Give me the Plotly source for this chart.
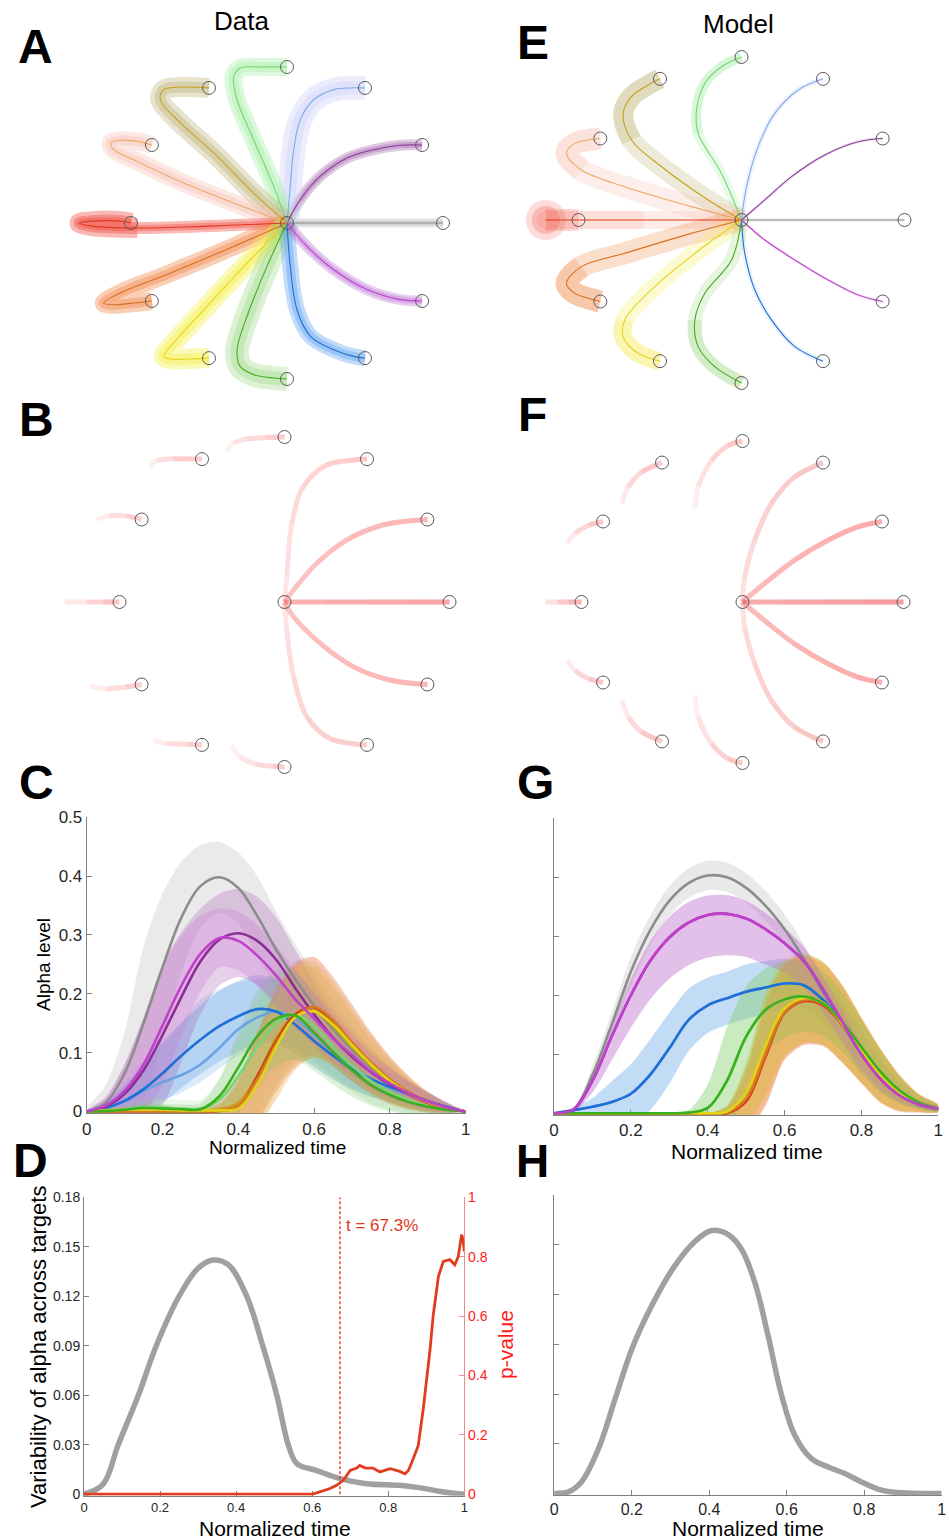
import plotly.graph_objects as go

W, H = 949, 1540
FONT = "Liberation Sans, Arial, Helvetica, sans-serif"

# ---------------- targets (unit = target distance) ----------------
TARGET_X = [1.0, 0.866, 0.5, 0.0, -0.5, -0.866, -1.0, -0.866, -0.5, 0.0, 0.5, 0.866]
TARGET_Y = [0.0, 0.5, 0.866, 1.0, 0.866, 0.5, 0.0, -0.5, -0.866, -1.0, -0.866, -0.5]

# ---------------- panel A: data trajectories ----------------
A_PATH_X = [
    [0, 0.5, 1.0],
    [0, 0.085, 0.214, 0.385, 0.556, 0.726, 0.866],
    [0, 0.021, 0.043, 0.085, 0.171, 0.3, 0.5],
    [0, -0.085, -0.214, -0.32, -0.342, -0.3, -0.17, 0.0],
    [0, -0.214, -0.47, -0.705, -0.812, -0.79, -0.705, -0.5],
    [0, -0.342, -0.662, -0.94, -1.11, -1.13, -1.07, -0.94, -0.866],
    [0, -0.5, -0.96, -1.25, -1.33, -1.25, -1.05, -1.0],
    [0, -0.342, -0.77, -1.07, -1.175, -1.13, -0.98, -0.866],
    [0, -0.214, -0.513, -0.726, -0.79, -0.748, -0.64, -0.5],
    [0, -0.128, -0.256, -0.32, -0.3, -0.214, -0.085, 0.0],
    [0, 0.021, 0.064, 0.15, 0.3, 0.427, 0.5],
    [0, 0.128, 0.3, 0.513, 0.726, 0.866],
]
A_PATH_Y = [
    [0, 0.0, 0.0],
    [0, 0.15, 0.3, 0.417, 0.47, 0.498, 0.5],
    [0, 0.235, 0.47, 0.662, 0.79, 0.855, 0.866],
    [0, 0.235, 0.534, 0.79, 0.94, 0.994, 1.0, 1.0],
    [0, 0.192, 0.449, 0.662, 0.79, 0.855, 0.87, 0.866],
    [0, 0.128, 0.256, 0.385, 0.47, 0.513, 0.53, 0.52, 0.5],
    [0, -0.02, -0.032, -0.02, 0.0, 0.012, 0.01, 0.0],
    [0, -0.15, -0.33, -0.449, -0.513, -0.524, -0.513, -0.5],
    [0, -0.214, -0.534, -0.769, -0.855, -0.872, -0.872, -0.866],
    [0, -0.278, -0.598, -0.812, -0.919, -0.972, -0.994, -1.0],
    [0, -0.278, -0.556, -0.726, -0.812, -0.855, -0.866],
    [0, -0.15, -0.3, -0.427, -0.491, -0.5],
]

# ---------------- panel E: model trajectories ----------------
E_PATH_X = [
    [0, 0.5, 1.0],
    [0, 0.143, 0.307, 0.511, 0.716, 0.866],
    [0, 0.031, 0.102, 0.204, 0.348, 0.5],
    [0, -0.123, -0.266, -0.276, -0.225, -0.123, 0.0],
    [0, -0.204, -0.49, -0.675, -0.726, -0.675, -0.573, -0.5],
    [0, -0.307, -0.716, -0.982, -1.074, -1.022, -0.94, -0.866],
    [0, -0.6, -1.2, -1.0],
    [0, -0.307, -0.716, -0.982, -1.074, -1.022, -0.94, -0.866],
    [0, -0.204, -0.532, -0.716, -0.726, -0.634, -0.5],
    [0, -0.061, -0.225, -0.286, -0.266, -0.164, 0.0],
    [0, 0.02, 0.082, 0.184, 0.327, 0.5],
    [0, 0.143, 0.327, 0.532, 0.716, 0.866],
]
E_PATH_Y = [
    [0, 0.0, 0.0],
    [0, 0.123, 0.266, 0.399, 0.48, 0.5],
    [0, 0.204, 0.45, 0.654, 0.798, 0.866],
    [0, 0.286, 0.532, 0.675, 0.838, 0.94, 1.0],
    [0, 0.123, 0.327, 0.491, 0.654, 0.757, 0.828, 0.866],
    [0, 0.082, 0.204, 0.307, 0.409, 0.47, 0.491, 0.5],
    [0, 0.0, 0.0, 0.0],
    [0, -0.082, -0.204, -0.286, -0.389, -0.45, -0.48, -0.5],
    [0, -0.143, -0.409, -0.613, -0.716, -0.818, -0.866],
    [0, -0.245, -0.45, -0.613, -0.777, -0.9, -1.0],
    [0, -0.204, -0.429, -0.613, -0.777, -0.866],
    [0, -0.123, -0.245, -0.368, -0.46, -0.5],
]

# ---------------- panel B: data, alpha-weighted paths ----------------
B_PATH_X = [
    [0, 0.25, 0.5, 0.75, 1.0],
    [0, 0.055, 0.196, 0.379, 0.601, 0.783, 0.866],
    [0, 0.014, 0.045, 0.115, 0.257, 0.399, 0.5],
    [-0.35, -0.31, -0.229, -0.107, 0.0],
    [-0.816, -0.775, -0.674, -0.5],
    [-1.14, -1.06, -0.96, -0.866],
    [-1.332, -1.2, -1.1, -1.0],
    [-1.18, -1.08, -0.96, -0.866],
    [-0.796, -0.715, -0.593, -0.5],
    [-0.32, -0.27, -0.168, -0.067, 0.0],
    [0, 0.014, 0.055, 0.136, 0.277, 0.5],
    [0, 0.055, 0.217, 0.419, 0.642, 0.866],
]
B_PATH_Y = [
    [0, 0.0, 0.0, 0.0, 0.0],
    [0, 0.073, 0.235, 0.377, 0.468, 0.494, 0.5],
    [0, 0.154, 0.478, 0.7, 0.832, 0.858, 0.866],
    [0.913, 0.964, 0.988, 0.997, 1.0],
    [0.818, 0.858, 0.868, 0.866],
    [0.502, 0.522, 0.522, 0.5],
    [0.0, 0.0, 0.0, 0.0],
    [-0.51, -0.526, -0.514, -0.5],
    [-0.838, -0.858, -0.862, -0.866],
    [-0.868, -0.939, -0.984, -0.996, -1.0],
    [0, -0.17, -0.453, -0.696, -0.828, -0.866],
    [0, -0.089, -0.251, -0.393, -0.474, -0.5],
]

# ---------------- panel F: model, alpha-weighted paths ----------------
F_PATH_X = [
    [0, 0.25, 0.5, 0.75, 1.0],
    [0, 0.138, 0.324, 0.531, 0.717, 0.866],
    [0, 0.014, 0.076, 0.18, 0.324, 0.5],
    [-0.295, -0.275, -0.192, -0.089, 0.0],
    [-0.75, -0.709, -0.626, -0.5],
    [-1.09, -1.04, -0.955, -0.866],
    [-1.225, -1.15, -1.08, -1.0],
    [-1.09, -1.04, -0.955, -0.866],
    [-0.75, -0.709, -0.626, -0.5],
    [-0.295, -0.275, -0.192, -0.089, 0.0],
    [0, 0.014, 0.076, 0.18, 0.324, 0.5],
    [0, 0.138, 0.324, 0.531, 0.717, 0.866],
]
F_PATH_Y = [
    [0, 0.0, 0.0, 0.0, 0.0],
    [0, 0.116, 0.26, 0.384, 0.467, 0.5],
    [0, 0.157, 0.384, 0.612, 0.777, 0.866],
    [0.58, 0.715, 0.88, 0.973, 1.0],
    [0.612, 0.715, 0.808, 0.866],
    [0.364, 0.426, 0.477, 0.5],
    [0.0, 0.0, 0.0, 0.0],
    [-0.364, -0.426, -0.477, -0.5],
    [-0.612, -0.715, -0.808, -0.866],
    [-0.58, -0.715, -0.88, -0.973, -1.0],
    [0, -0.157, -0.384, -0.612, -0.777, -0.866],
    [0, -0.116, -0.26, -0.384, -0.467, -0.5],
]

# ---------------- panels C / G: alpha level over normalized time ----------------
T_GRID = [0.0, 0.05, 0.1, 0.15, 0.2, 0.25, 0.3, 0.35, 0.4, 0.45, 0.5,
          0.55, 0.6, 0.65, 0.7, 0.75, 0.8, 0.85, 0.9, 0.95, 1.0]

C_MEAN_000 = [0, 0.015, 0.065, 0.15, 0.245, 0.33, 0.383, 0.398, 0.38, 0.332, 0.275, 0.225, 0.18, 0.14, 0.105, 0.075, 0.05, 0.032, 0.018, 0.007, 0]
C_SD_000 = [0, 0.03, 0.07, 0.13, 0.125, 0.095, 0.07, 0.06, 0.06, 0.068, 0.065, 0.06, 0.055, 0.048, 0.04, 0.033, 0.026, 0.02, 0.014, 0.007, 0]
C_MEAN_030 = [0, 0.008, 0.03, 0.07, 0.13, 0.195, 0.255, 0.292, 0.303, 0.29, 0.258, 0.21, 0.165, 0.125, 0.093, 0.067, 0.046, 0.029, 0.015, 0.006, 0]
C_SD_030 = [0, 0.015, 0.05, 0.09, 0.12, 0.11, 0.09, 0.078, 0.075, 0.075, 0.072, 0.065, 0.055, 0.048, 0.042, 0.036, 0.03, 0.024, 0.017, 0.009, 0]
C_MEAN_330 = [0, 0.01, 0.035, 0.08, 0.146, 0.214, 0.268, 0.295, 0.29, 0.265, 0.231, 0.191, 0.158, 0.124, 0.096, 0.068, 0.048, 0.031, 0.017, 0.007, 0]
C_SD_330 = [0, 0.015, 0.045, 0.08, 0.1, 0.085, 0.065, 0.05, 0.05, 0.052, 0.052, 0.05, 0.045, 0.04, 0.035, 0.03, 0.025, 0.02, 0.015, 0.008, 0]
C_MEAN_300 = [0, 0.006, 0.018, 0.038, 0.065, 0.095, 0.122, 0.145, 0.162, 0.174, 0.17, 0.148, 0.12, 0.095, 0.072, 0.055, 0.042, 0.03, 0.018, 0.008, 0]
C_SD_300 = [0, 0.01, 0.025, 0.04, 0.05, 0.055, 0.058, 0.06, 0.06, 0.058, 0.055, 0.05, 0.045, 0.04, 0.035, 0.03, 0.025, 0.02, 0.015, 0.008, 0]
C_MEAN_060 = [0, 0.005, 0.018, 0.035, 0.05, 0.062, 0.08, 0.108, 0.14, 0.16, 0.17, 0.158, 0.13, 0.1, 0.075, 0.056, 0.04, 0.028, 0.017, 0.007, 0]
C_SD_060 = [0, 0.01, 0.03, 0.05, 0.07, 0.09, 0.11, 0.1, 0.08, 0.065, 0.055, 0.05, 0.045, 0.04, 0.035, 0.03, 0.025, 0.02, 0.014, 0.007, 0]
C_DN_060 = [0, 0.005, 0.015, 0.025, 0.03, 0.03, 0.03, 0.035, 0.045, 0.05, 0.05, 0.05, 0.045, 0.04, 0.035, 0.03, 0.025, 0.02, 0.014, 0.007, 0]
C_MEAN_270 = [0, 0.001, 0.003, 0.006, 0.005, 0.004, 0.004, 0.026, 0.075, 0.128, 0.158, 0.163, 0.134, 0.101, 0.07, 0.045, 0.028, 0.016, 0.008, 0.003, 0]
C_SD_270 = [0, 0.003, 0.006, 0.008, 0.008, 0.008, 0.01, 0.03, 0.06, 0.075, 0.08, 0.075, 0.065, 0.055, 0.045, 0.035, 0.028, 0.02, 0.013, 0.006, 0]
C_MEAN_090 = [0, 0.001, 0.004, 0.008, 0.007, 0.005, 0.005, 0.02, 0.06, 0.11, 0.15, 0.165, 0.145, 0.11, 0.078, 0.052, 0.033, 0.019, 0.009, 0.003, 0]
C_SD_090 = [0, 0.005, 0.01, 0.015, 0.015, 0.015, 0.015, 0.035, 0.06, 0.075, 0.08, 0.075, 0.065, 0.055, 0.045, 0.038, 0.03, 0.022, 0.014, 0.007, 0]
C_MEAN_120 = [0, 0, 0.001, 0.002, 0.002, 0.002, 0.002, 0.004, 0.015, 0.06, 0.125, 0.165, 0.17, 0.145, 0.11, 0.078, 0.05, 0.03, 0.015, 0.005, 0]
C_SD_120 = [0, 0, 0.002, 0.003, 0.003, 0.003, 0.004, 0.01, 0.04, 0.07, 0.08, 0.08, 0.075, 0.065, 0.055, 0.045, 0.035, 0.025, 0.015, 0.007, 0]
C_MEAN_150 = [0, 0, 0, 0.001, 0.001, 0.001, 0.001, 0.003, 0.012, 0.055, 0.12, 0.165, 0.175, 0.15, 0.115, 0.082, 0.054, 0.033, 0.017, 0.006, 0]
C_SD_150 = [0, 0, 0.001, 0.002, 0.002, 0.002, 0.003, 0.01, 0.04, 0.075, 0.085, 0.085, 0.08, 0.07, 0.06, 0.05, 0.038, 0.027, 0.017, 0.008, 0]
C_MEAN_180 = [0, 0, 0, 0, 0, 0, 0, 0.001, 0.008, 0.06, 0.12, 0.165, 0.177, 0.152, 0.116, 0.08, 0.052, 0.03, 0.015, 0.005, 0]
C_SD_180 = [0, 0, 0, 0, 0, 0, 0.002, 0.01, 0.04, 0.075, 0.085, 0.09, 0.085, 0.075, 0.065, 0.052, 0.04, 0.028, 0.017, 0.008, 0]
C_MEAN_210 = [0, 0, 0, 0, 0, 0, 0, 0.002, 0.01, 0.055, 0.115, 0.16, 0.178, 0.155, 0.118, 0.084, 0.055, 0.033, 0.017, 0.006, 0]
C_SD_210 = [0, 0, 0, 0, 0, 0, 0.002, 0.02, 0.05, 0.08, 0.095, 0.09, 0.085, 0.075, 0.065, 0.052, 0.04, 0.028, 0.017, 0.008, 0]
C_MEAN_240 = [0, 0.002, 0.003, 0.003, 0.003, 0.002, 0.002, 0.002, 0.005, 0.045, 0.11, 0.16, 0.17, 0.148, 0.113, 0.08, 0.052, 0.031, 0.016, 0.006, 0]
C_SD_240 = [0, 0.002, 0.003, 0.003, 0.003, 0.003, 0.003, 0.01, 0.04, 0.075, 0.085, 0.085, 0.08, 0.07, 0.06, 0.05, 0.038, 0.027, 0.017, 0.008, 0]

G_MEAN_000 = [0, 0.005, 0.065, 0.15, 0.24, 0.31, 0.36, 0.39, 0.403, 0.4, 0.382, 0.352, 0.312, 0.262, 0.205, 0.15, 0.1, 0.06, 0.032, 0.014, 0.006]
G_SD_000 = [0, 0.003, 0.015, 0.02, 0.025, 0.025, 0.025, 0.025, 0.025, 0.025, 0.025, 0.025, 0.025, 0.025, 0.022, 0.02, 0.018, 0.014, 0.01, 0.006, 0.003]
G_MEAN_PUR = [0, 0.006, 0.055, 0.13, 0.2, 0.258, 0.298, 0.323, 0.336, 0.338, 0.33, 0.312, 0.288, 0.258, 0.21, 0.155, 0.1, 0.058, 0.03, 0.015, 0.008]
G_SD_PUR = [0, 0.003, 0.012, 0.02, 0.028, 0.033, 0.035, 0.035, 0.033, 0.032, 0.03, 0.028, 0.026, 0.024, 0.022, 0.02, 0.018, 0.014, 0.01, 0.006, 0.003]
G_DN_PUR = [0, 0.004, 0.02, 0.04, 0.055, 0.065, 0.07, 0.072, 0.072, 0.07, 0.065, 0.06, 0.05, 0.045, 0.04, 0.035, 0.028, 0.02, 0.012, 0.007, 0.004]
G_MEAN_BLU = [0, 0.005, 0.011, 0.019, 0.033, 0.065, 0.11, 0.158, 0.183, 0.195, 0.206, 0.213, 0.22, 0.217, 0.192, 0.155, 0.11, 0.068, 0.036, 0.017, 0.008]
G_SD_BLU = [0, 0.004, 0.015, 0.035, 0.05, 0.06, 0.06, 0.053, 0.047, 0.045, 0.046, 0.045, 0.042, 0.04, 0.038, 0.035, 0.03, 0.022, 0.015, 0.008, 0.004]
G_MEAN_GRN = [0, 0, 0, 0, 0, 0, 0, 0.001, 0.009, 0.055, 0.13, 0.175, 0.193, 0.198, 0.186, 0.155, 0.112, 0.07, 0.038, 0.018, 0.008]
G_SD_GRN = [0, 0, 0, 0, 0, 0, 0, 0.004, 0.04, 0.09, 0.085, 0.07, 0.065, 0.06, 0.055, 0.05, 0.045, 0.035, 0.022, 0.012, 0.005]
G_MEAN_YEL = [0, 0, 0, 0, 0, 0, 0, 0, 0, 0.003, 0.035, 0.115, 0.178, 0.195, 0.187, 0.152, 0.107, 0.064, 0.034, 0.017, 0.008]
G_MEAN_ORG = [0, 0, 0, 0, 0, 0, 0, 0, 0, 0.001, 0.025, 0.1, 0.172, 0.192, 0.185, 0.152, 0.107, 0.064, 0.034, 0.017, 0.008]
G_MEAN_RED = [0, 0, 0, 0, 0, 0, 0, 0, 0, 0.0, 0.02, 0.095, 0.17, 0.19, 0.183, 0.15, 0.105, 0.062, 0.032, 0.016, 0.008]
G_SD_LATE = [0, 0, 0, 0, 0, 0, 0, 0, 0, 0.01, 0.05, 0.085, 0.08, 0.075, 0.07, 0.065, 0.055, 0.045, 0.03, 0.015, 0.006]

# ---------------- panels D / H: variability across targets ----------------
D_T = [0, 0.05, 0.09, 0.143, 0.19, 0.25, 0.3, 0.34, 0.38, 0.428, 0.47, 0.507, 0.537, 0.56, 0.61, 0.673, 0.743, 0.83, 0.88, 0.945, 1.0]
D_VAR = [0, 0.006, 0.03, 0.06, 0.09, 0.12, 0.137, 0.142, 0.139, 0.12, 0.09, 0.06, 0.03, 0.0185, 0.0145, 0.0095, 0.0064, 0.0054, 0.004, 0.0014, 0]
D_PT = [0, 0.6, 0.62, 0.647, 0.664, 0.682, 0.70, 0.717, 0.725, 0.74, 0.76, 0.778, 0.805, 0.83, 0.844, 0.853, 0.866,
        0.879, 0.892, 0.91, 0.918, 0.932, 0.945, 0.962, 0.975, 0.984, 0.993, 0.997, 1.0]
D_P = [0, 0, 0.008, 0.019, 0.03, 0.047, 0.08, 0.088, 0.097, 0.088, 0.088, 0.075, 0.086, 0.077, 0.069, 0.08, 0.12,
       0.164, 0.287, 0.488, 0.6, 0.734, 0.784, 0.79, 0.773, 0.80, 0.874, 0.857, 0.818]
T_SIG = 0.673
H_T = [0, 0.036, 0.07, 0.114, 0.157, 0.2, 0.251, 0.31, 0.363, 0.406, 0.45, 0.484, 0.518, 0.552, 0.587, 0.621, 0.664, 0.707, 0.75, 0.793, 0.845, 0.897, 1.0]
H_VAR = [0, 0.001, 0.007, 0.027, 0.057, 0.087, 0.113, 0.137, 0.152, 0.1586, 0.156, 0.147, 0.127, 0.095, 0.059, 0.035, 0.021, 0.016, 0.012, 0.007, 0.002, 0.0004, 0]

TIME_TICKS = [0, 0.2, 0.4, 0.6, 0.8, 1.0]
TIME_LABELS = ["0", "0.2", "0.4", "0.6", "0.8", "1"]
ALPHA_TICKS = [0, 0.1, 0.2, 0.3, 0.4, 0.5]
ALPHA_LABELS = ["0", "0.1", "0.2", "0.3", "0.4", "0.5"]
VAR_TICKS = [0, 0.03, 0.06, 0.09, 0.12, 0.15, 0.18]
VAR_LABELS = ["0", "0.03", "0.06", "0.09", "0.12", "0.15", "0.18"]
P_TICKS = [0, 0.2, 0.4, 0.6, 0.8, 1.0]
P_LABELS = ["0", "0.2", "0.4", "0.6", "0.8", "1"]

# ---------------- styles ----------------
LINE_COL = ['#8c8c8c', '#8a3a98', '#78aee8', '#74d674', '#c4a018', '#f0a860',
            '#e0381e', '#d8701e', '#e6d41a', '#3cb01c', '#1f6fd6', '#c040cc']
A_BAND_COL = ['rgba(175,175,175,0.32)', 'rgba(150,80,160,0.30)', 'rgba(205,210,248,0.40)',
              'rgba(160,238,160,0.36)', 'rgba(185,172,110,0.34)', 'rgba(246,190,180,0.36)',
              'rgba(240,80,70,0.40)', 'rgba(242,135,75,0.40)', 'rgba(246,240,80,0.42)',
              'rgba(150,210,120,0.32)', 'rgba(90,158,240,0.36)', 'rgba(185,110,212,0.34)']
E_BAND_COL = ['rgba(175,175,175,0.25)', 'rgba(150,80,160,0.15)', 'rgba(200,210,248,0.30)',
              'rgba(165,235,165,0.25)', 'rgba(190,180,120,0.28)', 'rgba(248,200,190,0.30)',
              'rgba(250,200,190,0.35)', 'rgba(242,150,90,0.30)', 'rgba(246,240,110,0.32)',
              'rgba(170,215,140,0.28)', 'rgba(150,190,240,0.20)', 'rgba(190,120,215,0.15)']
A_BAND_W = [9, 11, 24, 18, 20, 18, 12, 18, 20, 24, 16, 11]
A_BAND_W2 = [0, 0, 0, 0, 0, 0, 20, 0, 0, 0, 0, 0]
E_BAND_W = [3, 3, 5, 10, 20, 22, 18, 22, 18, 14, 5, 3]
E_BAND_K = [0, 0, 0, 2, 3, 3, 1, 3, 3, 3, 0, 0]
B_BASE = [0.45, 0.35, 0.12, 0.0, 0.0, 0.0, 0.0, 0.0, 0.0, 0.0, 0.12, 0.35]
B_AMAX = [0.55, 0.45, 0.32, 0.30, 0.30, 0.30, 0.38, 0.30, 0.30, 0.30, 0.32, 0.45]
F_BASE = [0.50, 0.40, 0.15, 0.0, 0.0, 0.0, 0.0, 0.0, 0.0, 0.0, 0.15, 0.40]
F_AMAX = [0.60, 0.50, 0.35, 0.35, 0.35, 0.35, 0.45, 0.35, 0.35, 0.35, 0.35, 0.50]


def dom_x(a, b):
    return [a / W, b / W]


def dom_y(top, bottom):
    return [1 - bottom / H, 1 - top / H]


def ref(n, c):
    return c if n == 1 else f"{c}{n}"


def key(n, c):
    return f"{c}axis" if n == 1 else f"{c}axis{n}"


fig = go.Figure()
layout_axes = {}


def traj_axes(n, cx, cy, R, box):
    x0, x1, y0, y1 = box
    layout_axes[key(n, 'x')] = dict(domain=dom_x(x0, x1), range=[(x0 - cx) / R, (x1 - cx) / R],
                                    visible=False, fixedrange=True, anchor=ref(n, 'y'))
    layout_axes[key(n, 'y')] = dict(domain=dom_y(y0, y1), range=[(cy - y1) / R, (cy - y0) / R],
                                    visible=False, fixedrange=True, anchor=ref(n, 'x'))


def add_line(n, x, y, color, width, shape='spline', dash=None, yaxis=None):
    fig.add_trace(go.Scatter(x=x, y=y, mode='lines', xaxis=ref(n, 'x'), yaxis=yaxis or ref(n, 'y'),
                             line=dict(color=color, width=width, shape=shape, dash=dash, smoothing=1.0),
                             hoverinfo='skip', showlegend=False))


def add_targets(n):
    fig.add_trace(go.Scatter(x=TARGET_X + [0], y=TARGET_Y + [0], mode='markers',
                             xaxis=ref(n, 'x'), yaxis=ref(n, 'y'),
                             marker=dict(symbol='circle-open', size=13, color='#5a5a5a', line=dict(width=1)),
                             hoverinfo='skip', showlegend=False))


def traj_panel_data(n, px, py):
    for i in range(12):
        add_line(n, px[i], py[i], A_BAND_COL[i], A_BAND_W[i])
        add_line(n, px[i], py[i], A_BAND_COL[i], A_BAND_W[i] * 0.55)
        if A_BAND_W2[i] > 0:
            add_line(n, px[i][2:], py[i][2:], A_BAND_COL[i], A_BAND_W2[i])
    for i in range(12):
        add_line(n, px[i], py[i], LINE_COL[i], 1.1)
    add_targets(n)


def traj_panel_model(n, px, py):
    for i in range(12):
        add_line(n, px[i], py[i], E_BAND_COL[i], E_BAND_W[i])
        k = E_BAND_K[i]
        if k > 0:
            add_line(n, px[i][k:], py[i][k:], E_BAND_COL[i], E_BAND_W[i])
    # soft blob around the overshoot apex of the 180 deg reach
    for size, col in [(40, 'rgba(242,95,85,0.22)'), (28, 'rgba(242,95,85,0.30)')]:
        fig.add_trace(go.Scatter(x=[px[6][2]], y=[py[6][2]], mode='markers', xaxis=ref(n, 'x'), yaxis=ref(n, 'y'),
                                 marker=dict(size=size, color=col, line=dict(width=0)),
                                 hoverinfo='skip', showlegend=False))
    add_line(n, px[6][2:], py[6][2:], 'rgba(242,95,85,0.25)', 22)
    for i in range(12):
        add_line(n, px[i], py[i], LINE_COL[i], 1.1)
    add_targets(n)


def alpha_panel(n, px, py, base, amax):
    for i in range(12):
        m = len(px[i])
        if base[i] > 0:
            add_line(n, px[i], py[i], f'rgba(245,95,95,{base[i]:.3f})', 5)
        extra = (amax[i] - base[i]) / (1 - base[i])
        a = 1 - (1 - extra) ** (1.0 / (m - 1))
        for k in range(m - 1):
            add_line(n, px[i][k:], py[i][k:], f'rgba(245,95,95,{a:.3f})', 5)
    add_targets(n)


# ---- trajectory panels ----
traj_axes(1, 287, 223, 156, (55, 500, 35, 400))
traj_panel_data(1, A_PATH_X, A_PATH_Y)
traj_axes(2, 741.5, 220, 163, (505, 945, 35, 400))
traj_panel_model(2, E_PATH_X, E_PATH_Y)
traj_axes(3, 284.5, 602, 165, (50, 495, 405, 790))
alpha_panel(3, B_PATH_X, B_PATH_Y, B_BASE, B_AMAX)
traj_axes(4, 742.5, 602, 161, (505, 945, 405, 790))
alpha_panel(4, F_PATH_X, F_PATH_Y, F_BASE, F_AMAX)

# ---- chart axes ----
AX_COL = '#808080'
TICK_FONT_COL = '#262626'


def chart_axes(n, xbox, ybox, yr, yticks, ylabels, xfont, yfont, show_ylabels=True):
    layout_axes[key(n, 'x')] = dict(domain=dom_x(*xbox), range=[0, 1], anchor=ref(n, 'y'),
                                    tickvals=TIME_TICKS, ticktext=TIME_LABELS, ticks='inside', ticklen=5,
                                    tickcolor=AX_COL, showline=True, linecolor=AX_COL, linewidth=1,
                                    showgrid=False, zeroline=False, fixedrange=True, layer='below traces',
                                    automargin=False,
                                    tickfont=dict(size=xfont, color=TICK_FONT_COL, family=FONT))
    layout_axes[key(n, 'y')] = dict(domain=dom_y(*ybox), range=yr, anchor=ref(n, 'x'),
                                    tickvals=yticks, ticktext=ylabels, ticks='inside', ticklen=5,
                                    tickcolor=AX_COL, showline=True, linecolor=AX_COL, linewidth=1,
                                    showgrid=False, zeroline=False, fixedrange=True,
                                    showticklabels=show_ylabels, layer='below traces', automargin=False,
                                    tickfont=dict(size=yfont, color=TICK_FONT_COL, family=FONT))


def alpha_series(n, series):
    for mean, up, dn, lc, bc in series:
        hi = [m + u for m, u in zip(mean, up)]
        lo = [m - d for m, d in zip(mean, dn)]
        fig.add_trace(go.Scatter(x=T_GRID + T_GRID[::-1], y=hi + lo[::-1], mode='lines', fill='toself',
                                 fillcolor=bc, line=dict(width=0, shape='spline', smoothing=0.8),
                                 xaxis=ref(n, 'x'), yaxis=ref(n, 'y'), hoverinfo='skip', showlegend=False))
    for mean, up, dn, lc, bc in series:
        add_line(n, T_GRID, mean, lc, 2.6)


C_SERIES = [
    (C_MEAN_000, C_SD_000, C_SD_000, '#8c8c8c', 'rgba(195,195,195,0.35)'),
    (C_MEAN_060, C_SD_060, C_DN_060, '#6aa2e4', 'rgba(165,200,240,0.38)'),
    (C_MEAN_300, C_SD_300, C_SD_300, '#1f6fd6', 'rgba(90,160,230,0.30)'),
    (C_MEAN_030, C_SD_030, C_SD_030, '#8a2f94', 'rgba(170,90,180,0.28)'),
    (C_MEAN_090, C_SD_090, C_SD_090, '#74d674', 'rgba(160,225,150,0.22)'),
    (C_MEAN_120, C_SD_120, C_SD_120, '#c4a018', 'rgba(190,165,70,0.24)'),
    (C_MEAN_150, C_SD_150, C_SD_150, '#e8963c', 'rgba(240,160,130,0.24)'),
    (C_MEAN_180, C_SD_180, C_SD_180, '#c8401c', 'rgba(225,110,90,0.22)'),
    (C_MEAN_210, C_SD_210, C_SD_210, '#d87a20', 'rgba(235,140,70,0.24)'),
    (C_MEAN_240, C_SD_240, C_SD_240, '#e0d416', 'rgba(225,210,70,0.24)'),
    (C_MEAN_270, C_SD_270, C_SD_270, '#3cb01c', 'rgba(110,190,90,0.22)'),
    (C_MEAN_330, C_SD_330, C_SD_330, '#c040cc', 'rgba(200,110,210,0.28)'),
]
G_SERIES = [
    (G_MEAN_000, G_SD_000, G_SD_000, '#8c8c8c', 'rgba(200,200,200,0.40)'),
    (G_MEAN_BLU, G_SD_BLU, G_SD_BLU, '#6aa2e4', 'rgba(120,175,235,0.25)'),
    (G_MEAN_BLU, G_SD_BLU, G_SD_BLU, '#1f6fd6', 'rgba(120,175,235,0.25)'),
    (G_MEAN_PUR, G_SD_PUR, G_DN_PUR, '#8a2f94', 'rgba(185,110,200,0.25)'),
    (G_MEAN_GRN, G_SD_GRN, G_SD_GRN, '#74d674', 'rgba(140,215,120,0.25)'),
    (G_MEAN_YEL, G_SD_LATE, G_SD_LATE, '#c4a018', 'rgba(200,170,60,0.30)'),
    (G_MEAN_ORG, G_SD_LATE, G_SD_LATE, '#e8963c', 'rgba(240,160,100,0.28)'),
    (G_MEAN_RED, G_SD_LATE, G_SD_LATE, '#d2401c', 'rgba(230,120,80,0.25)'),
    (G_MEAN_ORG, G_SD_LATE, G_SD_LATE, '#d87a20', 'rgba(235,145,60,0.28)'),
    (G_MEAN_YEL, G_SD_LATE, G_SD_LATE, '#e0d416', 'rgba(220,205,60,0.30)'),
    (G_MEAN_GRN, G_SD_GRN, G_SD_GRN, '#3cb01c', 'rgba(120,200,90,0.22)'),
    (G_MEAN_PUR, G_SD_PUR, G_DN_PUR, '#c040cc', 'rgba(200,110,210,0.25)'),
]

chart_axes(5, (86.7, 465.7), (817.3, 1113.3), [-0.003, 0.5], ALPHA_TICKS, ALPHA_LABELS, 17, 17)
alpha_series(5, C_SERIES)
chart_axes(6, (554, 938.3), (818.3, 1115), [-0.003, 0.5], ALPHA_TICKS, ALPHA_LABELS, 17, 17, show_ylabels=False)
alpha_series(6, G_SERIES)

# ---- D ----
chart_axes(7, (84, 464.3), (1197.3, 1495.7), [-0.0009, 0.18], VAR_TICKS, VAR_LABELS, 13, 14)
layout_axes['yaxis9'] = dict(overlaying='y7', side='right', anchor='x7', range=[-0.005, 1],
                             tickvals=P_TICKS, ticktext=P_LABELS, ticks='inside', ticklen=5,
                             tickcolor='#f08a8a', showline=True, linecolor='#f08a8a', linewidth=1,
                             showgrid=False, zeroline=False, fixedrange=True, layer='below traces',
                             automargin=False, tickfont=dict(size=14, color='#ff1a1a', family=FONT))
add_line(7, D_T, D_VAR, '#a0a0a0', 5.5)
add_line(7, [T_SIG, T_SIG], [0, 1], '#e03a1e', 1.4, shape='linear', dash='3px,2px', yaxis='y9')
add_line(7, D_PT, D_P, '#e03c1e', 2.8, shape='linear', yaxis='y9')

# ---- H ----
chart_axes(8, (554.3, 941.7), (1195, 1495), [-0.0009, 0.18], VAR_TICKS, VAR_LABELS, 16, 16, show_ylabels=False)
add_line(8, H_T, H_VAR, '#a0a0a0', 5.5)

# ---------------- annotations ----------------
ann = []


def text(px, py, s, size, color='#000', bold=False, angle=0, xanchor='center'):
    ann.append(dict(x=px / W, y=1 - py / H, xref='paper', yref='paper', text=f"<b>{s}</b>" if bold else s,
                    showarrow=False, xanchor=xanchor, yanchor='middle', textangle=angle,
                    font=dict(size=size, color=color, family=FONT)))


for s, px, py, sz in [("A", 35, 47, 48), ("E", 533, 43, 48), ("B", 36, 420, 48), ("F", 532, 415, 48),
                      ("C", 36, 782, 48), ("G", 535, 782, 48), ("D", 30, 1160, 48), ("H", 532, 1161, 46)]:
    text(px, py, s, sz, bold=True)
text(241, 21, "Data", 26)
text(738, 24, "Model", 26)
text(43, 965, "Alpha level", 19, angle=-90)
text(277, 1147, "Normalized time", 19)
text(747, 1151, "Normalized time", 21)
text(38, 1347, "Variability of alpha across targets", 22, angle=-90)
text(505, 1345, "p-value", 21, color='#ff1a1a', angle=-90)
text(275, 1528, "Normalized time", 21)
text(748, 1528, "Normalized time", 21)
ann.append(dict(x=T_SIG + 0.01, y=0.163, xref='x7', yref='y7', text=f"t = {T_SIG * 100:.1f}%",
                showarrow=False, xanchor='left', yanchor='middle',
                font=dict(size=17, color='#e03a1e', family=FONT)))

fig.update_layout(width=W, height=H, margin=dict(l=0, r=0, t=0, b=0, pad=0),
                  paper_bgcolor='white', plot_bgcolor='rgba(0,0,0,0)',
                  font=dict(family=FONT), annotations=ann, showlegend=False, **layout_axes)

fig.write_html("out.html", config={'displayModeBar': False, 'staticPlot': True},
               post_script="document.body.style.margin='0px';document.body.style.overflow='hidden';")
